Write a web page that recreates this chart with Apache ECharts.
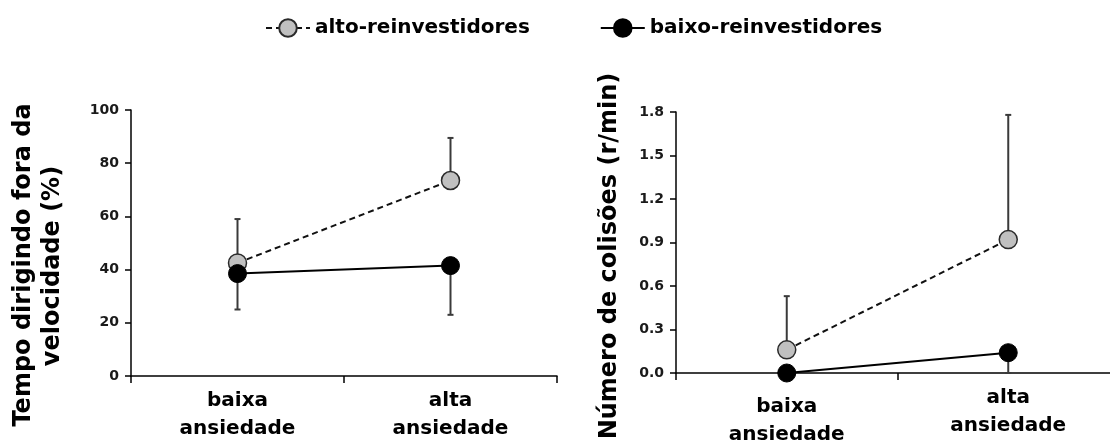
<!DOCTYPE html>
<html>
<head>
<meta charset="utf-8">
<script src="https://cdn.jsdelivr.net/npm/echarts@6/dist/echarts.min.js"></script>
<style>
  html, body { margin: 0; padding: 0; background: #fff; }
  #chart { width: 1110px; height: 441px; }
</style>
</head>
<body>
<div id="chart"></div>
<script>
// Condition categories (x axis of both panels)
const categories = ['baixa\nansiedade', 'alta\nansiedade'];

// Panel 1: time driving outside the speed limit (%)
const speedAlto = [42.5, 73.5];
const speedAltoUpper = [59, 89.5];
const speedBaixo = [38.5, 41.5];
const speedBaixoLower = [25, 23];
const speedTicks = { min: 0, max: 100, interval: 20 };

// Panel 2: number of collisions (r/min)
const colAlto = [0.16, 0.92];
const colAltoUpper = [0.53, 1.78];
const colBaixo = [0.0, 0.14];
const colBaixoLower = [0.0, 0.0];
const colTicks = { min: 0, max: 1.8, interval: 0.3 };

const nameAlto = 'alto-reinvestidores';
const nameBaixo = 'baixo-reinvestidores';

const FONT = '"DejaVu Sans", sans-serif';

// error bar: vertical line from the mean to the end value, with a small cap at the end
function errorBar(params, api) {
  const idx = api.value(0);
  const from = api.coord([idx, api.value(1)]);
  const to = api.coord([idx, api.value(2)]);
  if (Math.abs(from[1] - to[1]) < 0.5) return null;
  const cap = 3;
  const st = { stroke: '#3a3a3a', lineWidth: 2 };
  return {
    type: 'group',
    children: [
      { type: 'line', shape: { x1: from[0], y1: from[1], x2: to[0], y2: to[1] }, style: st },
      { type: 'line', shape: { x1: to[0] - cap, y1: to[1], x2: to[0] + cap, y2: to[1] }, style: st }
    ]
  };
}

function barData(means, ends) {
  return means.map((m, i) => [i, m, ends[i]]);
}

const altoStyle = {
  symbol: 'circle', symbolSize: 18,
  itemStyle: { color: '#c0c0c0', borderColor: '#2a2a2a', borderWidth: 1.5 },
  lineStyle: { color: '#111', width: 2, type: [6, 4] }
};
const baixoStyle = {
  symbol: 'circle', symbolSize: 18,
  itemStyle: { color: '#000', borderColor: '#000', borderWidth: 1 },
  lineStyle: { color: '#000', width: 2, type: 'solid' }
};

function yAxis(gridIndex, t, fmt) {
  return {
    type: 'value', gridIndex, min: t.min, max: t.max, interval: t.interval,
    axisLine: { show: true, lineStyle: { color: '#000', width: 1.5 } },
    axisTick: { show: true, length: 6, lineStyle: { color: '#000', width: 1.5 } },
    splitLine: { show: false },
    axisLabel: { fontFamily: FONT, fontWeight: 'bold', fontSize: 14, color: '#1a1a1a', margin: 12, formatter: fmt }
  };
}

function xAxis(gridIndex, data) {
  return {
    type: 'category', gridIndex, data, boundaryGap: true,
    axisLine: { show: true, lineStyle: { color: '#000', width: 1.5 } },
    axisTick: { show: true, length: 7, lineStyle: { color: '#000', width: 1.5 } },
    axisLabel: { fontFamily: FONT, fontWeight: 'bold', fontSize: 20, lineHeight: 28, color: '#000', margin: 11, interval: 0 }
  };
}

const chart = echarts.init(document.getElementById('chart'), null, { renderer: 'canvas' });

chart.setOption({
  animation: false,
  backgroundColor: '#fff',
  legend: {
    data: [nameAlto, nameBaixo],
    left: 260, top: 13,
    itemWidth: 44, itemHeight: 22, itemGap: 70,
    textStyle: { fontFamily: FONT, fontWeight: 'bold', fontSize: 20, color: '#000' }
  },
  grid: [
    { left: 131, top: 110, right: 553, bottom: 65, outerBoundsMode: 'none' },
    { left: 676, top: 112, right: -9, bottom: 68, outerBoundsMode: 'none' }
  ],
  xAxis: [
    xAxis(0, categories),
    xAxis(1, categories.map((c, i) => i === 0 ? { value: c, textStyle: { padding: [9, 0, 0, 0] } } : c))
  ],
  yAxis: [
    yAxis(0, speedTicks, v => String(v)),
    yAxis(1, colTicks, v => v.toFixed(1))
  ],
  graphic: [
    { type: 'text', x: 24, y: 265, rotation: Math.PI / 2,
      style: { text: 'Tempo dirigindo fora da', fontFamily: FONT, fontWeight: 'bold', fontSize: 24, fill: '#000', align: 'center', verticalAlign: 'middle' } },
    { type: 'text', x: 53, y: 266, rotation: Math.PI / 2,
      style: { text: 'velocidade (%)', fontFamily: FONT, fontWeight: 'bold', fontSize: 24, fill: '#000', align: 'center', verticalAlign: 'middle' } },
    { type: 'text', x: 610, y: 256, rotation: Math.PI / 2,
      style: { text: 'Número de colisões (r/min)', fontFamily: FONT, fontWeight: 'bold', fontSize: 24, fill: '#000', align: 'center', verticalAlign: 'middle' } }
  ],
  series: [
    // panel 1
    { type: 'custom', xAxisIndex: 0, yAxisIndex: 0, renderItem: errorBar, encode: { x: 0, y: [1, 2] }, data: barData(speedAlto, speedAltoUpper), z: 1, silent: true },
    { type: 'custom', xAxisIndex: 0, yAxisIndex: 0, renderItem: errorBar, encode: { x: 0, y: [1, 2] }, data: barData(speedBaixo, speedBaixoLower), z: 1, silent: true },
    Object.assign({ type: 'line', name: nameAlto, xAxisIndex: 0, yAxisIndex: 0, data: speedAlto, z: 2 }, altoStyle),
    Object.assign({ type: 'line', name: nameBaixo, xAxisIndex: 0, yAxisIndex: 0, data: speedBaixo, z: 3 }, baixoStyle),
    // panel 2
    { type: 'custom', xAxisIndex: 1, yAxisIndex: 1, renderItem: errorBar, encode: { x: 0, y: [1, 2] }, data: barData(colAlto, colAltoUpper), z: 1, silent: true },
    { type: 'custom', xAxisIndex: 1, yAxisIndex: 1, renderItem: errorBar, encode: { x: 0, y: [1, 2] }, data: barData(colBaixo, colBaixoLower), z: 1, silent: true },
    Object.assign({ type: 'line', name: nameAlto, xAxisIndex: 1, yAxisIndex: 1, data: colAlto, z: 2 }, altoStyle),
    Object.assign({ type: 'line', name: nameBaixo, xAxisIndex: 1, yAxisIndex: 1, data: colBaixo, z: 3 }, baixoStyle)
  ]
});
</script>
</body>
</html>
